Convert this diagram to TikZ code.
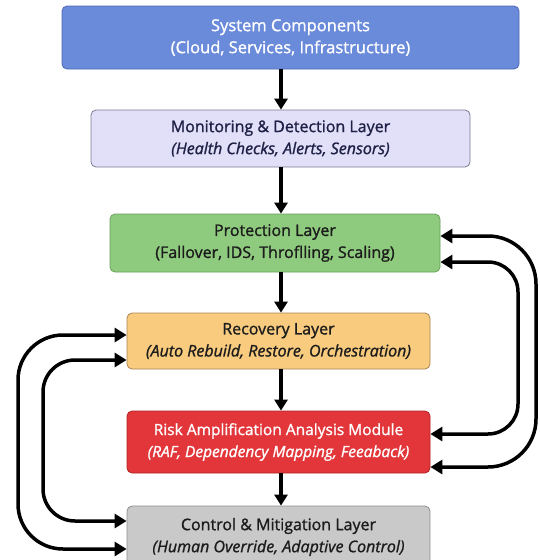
\documentclass[tikz,border=0pt]{standalone}
\usepackage{fontspec}
\setmainfont{Open Sans}[FakeBold=1.2]
\usetikzlibrary{arrows.meta}
\definecolor{c1fill}{HTML}{6A8ADA}
\definecolor{c1draw}{HTML}{4D68B5}
\definecolor{c2fill}{HTML}{E2DFF9}
\definecolor{c2draw}{HTML}{7C7A92}
\definecolor{c3fill}{HTML}{8FCB7E}
\definecolor{c3draw}{HTML}{68A05A}
\definecolor{c4fill}{HTML}{F8CB7E}
\definecolor{c4draw}{HTML}{A88455}
\definecolor{c5fill}{HTML}{E2363A}
\definecolor{c5draw}{HTML}{B02424}
\definecolor{c6fill}{HTML}{C9C9C9}
\definecolor{c6draw}{HTML}{8E8E8E}
\definecolor{navytxt}{HTML}{1E2045}
\definecolor{darktxt}{HTML}{1C1C1C}
\begin{document}
\begin{tikzpicture}[x=1pt,y=-1pt,
  layer/.style={draw, rounded corners=5pt, line width=0.8pt, align=center,
    inner sep=0pt, font=\fontsize{16}{22}\selectfont},
  varr/.style={line width=3.5pt, -{Triangle[length=11pt,width=13pt]}},
  barr/.style={line width=3.5pt, {Triangle[length=12pt,width=14pt]}-{Triangle[length=12pt,width=14pt]}}]
\useasboundingbox (0,0) rectangle (540,560);
\clip (0,0) rectangle (540,560);
\node[layer, fill=c1fill, draw=c1draw, text=white, minimum width=457pt, minimum height=63pt,
  font=\fontsize{16.5}{22}\selectfont]
  (b1) at (290.5,37.5) {System Components\\(Cloud, Services, Infrastructure)};
\node[layer, fill=c2fill, draw=c2draw, text=navytxt, minimum width=379pt, minimum height=57pt]
  (b2) at (280.5,138.5) {Monitoring \& Detection Layer\\\textit{(Health Checks, Alerts, Sensors)}};
\node[layer, fill=c3fill, draw=c3draw, text=darktxt, minimum width=330pt, minimum height=58pt]
  (b3) at (275,243) {Protection Layer\\(Fallover, IDS, Throflling, Scaling)};
\node[layer, fill=c4fill, draw=c4draw, text=darktxt, minimum width=303pt, minimum height=56pt]
  (b4) at (278.5,341) {Recovery Layer\\\textit{(Auto Rebuild, Restore, Orchestration)}};
\node[layer, fill=c5fill, draw=c5draw, text=white, minimum width=303pt, minimum height=62pt,
  font=\fontsize{15.5}{22}\selectfont]
  (b5) at (278.5,442) {Risk Amplification Analysis Module\\\textit{(RAF, Dependency Mapping, Feeaback)}};
\node[layer, fill=c6fill, draw=c6draw, text=darktxt, minimum width=303pt, minimum height=62pt]
  (b6) at (278.5,537) {Control \& Mitigation Layer\\\textit{(Human Override, Adaptive Control)}};
% vertical flow
\coordinate (ax) at (281,0);
\draw[varr] (b1.south -| ax) -- (b2.north -| ax);
\draw[varr] (b2.south -| ax) -- (b3.north -| ax);
\draw[varr] (b3.south -| ax) -- (b4.north -| ax);
\draw[varr] (b4.south -| ax) -- (b5.north -| ax);
\draw[varr] (b5.south -| ax) -- (b6.north -| ax);
% right loops
\coordinate (p3a) at ([yshift=7pt]b3.east);
\coordinate (p3b) at ([yshift=-19pt]b3.east);
\coordinate (p5a) at ([yshift=8pt]b5.east);
\coordinate (p5b) at ([yshift=-25pt]b5.east);
\coordinate (rxo) at (536,0);
\coordinate (rxi) at (518,0);
\draw[barr, rounded corners=48pt] (p3a) -- (p3a -| rxo) -- (p5b -| rxo) -- (p5b);
\draw[barr, rounded corners=30pt] (p3b) -- (p3b -| rxi) -- (p5a -| rxi) -- (p5a);
% left loops
\coordinate (p4a) at ([yshift=6pt]b4.west);
\coordinate (p4b) at ([yshift=-19pt]b4.west);
\coordinate (p6a) at ([yshift=16pt]b6.west);
\coordinate (p6b) at ([yshift=-12pt]b6.west);
\coordinate (lxo) at (18,0);
\coordinate (lxi) at (43,0);
\draw[barr, rounded corners=45pt] (p4a) -- (p4a -| lxo) -- (p6b -| lxo) -- (p6b);
\draw[barr, rounded corners=32pt] (p4b) -- (p4b -| lxi) -- (p6a -| lxi) -- (p6a);
\end{tikzpicture}
\end{document}
